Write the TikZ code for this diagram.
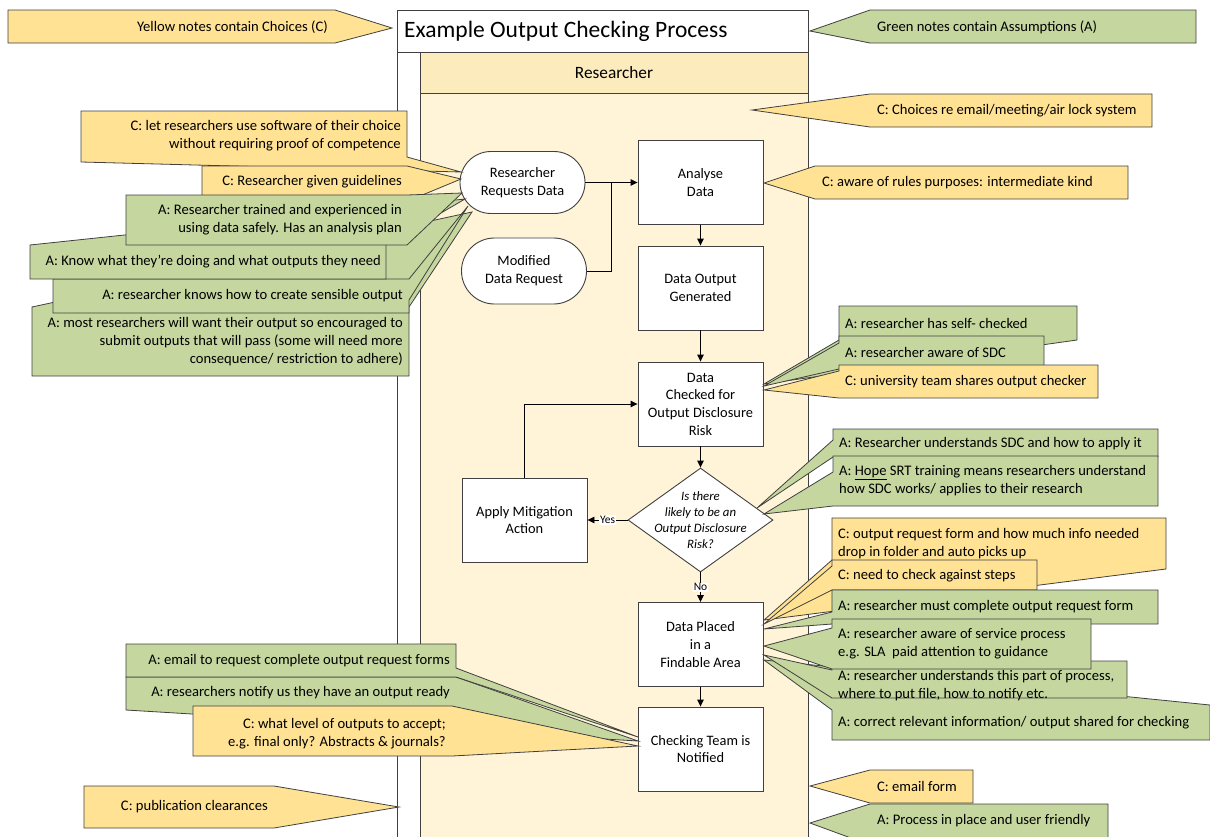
\documentclass[tikz,border=0pt]{standalone}
\usepackage{fontspec}
\setmainfont{Carlito}
\usetikzlibrary{arrows.meta,shapes.geometric}

\definecolor{ink}{HTML}{404040}
\definecolor{noteY}{HTML}{FFE294}
\definecolor{noteG}{HTML}{C5D69F}
\definecolor{laneHead}{HTML}{FCEBBD}
\definecolor{laneBody}{HTML}{FFF4D8}

\newcommand\notefont{\fontsize{14.6}{18}\selectfont}
\newcommand\flowfont{\fontsize{14.4}{17.7}\selectfont}

\begin{document}
\begin{tikzpicture}[x=1pt,y=-1pt,
  noteC/.style={draw=ink, fill=noteY, line width=0.8pt, line join=miter},
  noteA/.style={draw=ink, fill=noteG, line width=0.8pt, line join=miter},
  ntxtL/.style={anchor=west, align=left, font=\notefont, inner sep=0pt},
  ntxtR/.style={anchor=east, align=right, font=\notefont, inner sep=0pt},
  procbox/.style={draw=ink, fill=white, line width=0.9pt, minimum width=125pt,
    minimum height=84pt, align=center, font=\flowfont, inner sep=0pt},
  termbox/.style={draw=ink, fill=white, line width=0.9pt, minimum width=125pt,
    minimum height=62pt, rounded corners=31pt, align=center, font=\flowfont, inner sep=0pt},
  decbox/.style={diamond, draw=ink, fill=white, line width=0.9pt,
    minimum width=145pt, minimum height=104pt, inner sep=0pt},
  flow/.style={draw=black, line width=0.9pt, -{Triangle[length=7pt,width=6.5pt]}},
  link/.style={draw=black, line width=0.9pt},
  lbl/.style={fill=white, inner sep=1pt, font=\fontsize{11.5}{12}\selectfont},
]
\useasboundingbox (0,0) rectangle (1210,836);
\begin{scope}
\clip (0,0) rectangle (1210,836);

% ---------- pool and lane ----------
\fill[laneBody] (420,93) rectangle (808,850);
\filldraw[fill=laneHead, draw=ink, line width=0.9pt] (420,52) rectangle (808,93);
\filldraw[fill=white, draw=ink, line width=0.9pt] (397,10) rectangle (808,52);
\draw[ink, line width=0.9pt] (397,52) -- (397,850) (420,93) -- (420,850) (808,52) -- (808,850);
\node[anchor=west, font=\fontsize{23.5}{26}\selectfont, inner sep=0pt] (title) at (404,31) {Example Output Checking Process};
\node[font=\fontsize{17.3}{20}\selectfont, inner sep=0pt] (lane) at (614,73) {Researcher};

% ---------- process steps ----------
\node[termbox] (req) at (522.5,182.5) {Researcher\\Requests Data};
\node[termbox, minimum height=66pt, rounded corners=33pt] (mod) at (524,271) {Modified\\Data Request};
\node[procbox] (ana) at (700.5,182.5) {Analyse\\Data};
\node[procbox] (out) at (700.5,288) {Data Output\\Generated};
\node[procbox] (chk) at (700.5,404) {Data\\Checked for\\Output Disclosure\\Risk};
\node[decbox] (dec) at (700.5,520) {};
\node[font=\fontsize{12.8}{16}\selectfont\itshape, align=center, inner sep=0pt] (dectxt) at (700.5,520)
  {Is there\\likely to be an\\Output Disclosure\\Risk?};
\node[procbox] (mit) at (524.5,520) {Apply Mitigation\\Action};
\node[procbox] (place) at (700.5,644.5) {Data Placed\\in a\\Findable Area};
\node[procbox] (team) at (700.5,749) {Checking Team is\\Notified};

% ---------- connectors ----------
\coordinate (join) at (611,182.5);
\draw[flow] (req.east) -- (ana.west);
\draw[link] (mod.east) -| (join);
\draw[flow] (ana.south) -- (out.north);
\draw[flow] (out.south) -- (chk.north);
\draw[flow] (chk.south) -- (dec.north);
\draw[flow] (dec.west) -- node[lbl] (yes) {Yes} (mit.east);
\draw[flow] (dec.south) -- node[lbl] (no) {No} (place.north);
\draw[flow] (place.south) -- (team.north);
\draw[flow] (mit.north) |- (chk.west);

% ---------- legend notes ----------
\draw[noteC] (8,10) -- (335,10) -- (392,28) -- (335,43) -- (8,43) -- cycle;
\node[ntxtR] (c1) at (328,27) {Yellow notes contain Choices (C)};
\draw[noteA] (1196,10) -- (870,10) -- (810,31) -- (870,43) -- (1196,43) -- cycle;
\node[ntxtL] (c2) at (877,27) {Green notes contain Assumptions (A)};

% ---------- notes on the lane and Analyse Data ----------
\draw[noteC] (752,110) -- (870,94) -- (1152,94) -- (1152,127) -- (870,127) -- cycle;
\node[ntxtL] (c3) at (877,110.5) {C: Choices re email/meeting/air lock system};
\draw[noteC] (764,183) -- (815,166) -- (1128,166) -- (1128,199) -- (815,199) -- cycle;
\node[ntxtL] (c4) at (822,183) {C: aware of rules purposes: intermediate kind};

% ---------- notes on Researcher Requests Data ----------
\draw[noteC] (81,111) -- (407,111) -- (407,157) -- (461,172) -- (81,162) -- cycle;
\node[ntxtR] (c5) at (401,136) {C: let researchers use software of their choice\\without requiring proof of competence};
\draw[noteC] (202,166) -- (407,166) -- (461,179) -- (420,196) -- (202,196) -- cycle;
\node[ntxtR] (c6) at (402,182) {C: Researcher given guidelines};
\draw[noteA] (32,376) -- (32,307) -- (472,212) -- (409,307) -- (409,376) -- cycle;
\node[ntxtR] (c10) at (403,342) {A: most researchers will want their output so encouraged to\\submit outputs that will pass (some will need more\\consequence/ restriction to adhere)};
\draw[noteA] (53,279) -- (409,279) -- (468,206) -- (409,300) -- (409,313) -- (53,313) -- cycle;
\node[ntxtR] (c9) at (403,296) {A: researcher knows how to create sensible output};
\draw[noteA] (30,279) -- (30,245) -- (465,199) -- (386,245) -- (386,279) -- cycle;
\node[ntxtR] (c8) at (381,262) {A: Know what they’re doing and what outputs they need};
\draw[noteA] (126,195) -- (407,195) -- (462,193) -- (407,245) -- (126,245) -- cycle;
\node[ntxtR] (c7) at (402,220) {A: Researcher trained and experienced in\\using data safely. Has an analysis plan};

% ---------- notes on Data Checked ----------
\draw[noteA] (839,306) -- (1077,306) -- (1077,340) -- (764,384) -- (839,340) -- cycle;
\node[ntxtL] (c11) at (845,323) {A: researcher has self- checked};
\draw[noteA] (839,336) -- (1044,336) -- (1044,369) -- (839,369) -- (764,386) -- (839,343) -- cycle;
\node[ntxtL] (c12) at (845,352.5) {A: researcher aware of SDC};
\draw[noteC] (839,365) -- (1098,365) -- (1098,398) -- (839,398) -- (764,390) -- (839,371) -- cycle;
\node[ntxtL] (c13) at (845,381.5) {C: university team shares output checker};

% ---------- notes on the decision ----------
\draw[noteA] (833,429) -- (1158,429) -- (1158,457) -- (833,457) -- (757,508) -- (833,440) -- cycle;
\node[ntxtL] (c14) at (839,444) {A: Researcher understands SDC and how to apply it};
\draw[noteA] (833,456) -- (1158,456) -- (1158,506) -- (833,506) -- (764,514) -- (833,472) -- cycle;
\node[ntxtL] (c15) at (839,481) {A: \underline{Hope} SRT training means researchers understand\\how SDC works/ applies to their research};

% ---------- notes on Data Placed ----------
\draw[noteC] (832,518) -- (1166,518) -- (1166,569) -- (764,620) -- (832,560) -- cycle;
\node[ntxtL] (c16) at (838,543.5) {C: output request form and how much info needed\\drop in folder and auto picks up};
\draw[noteC] (832,560) -- (1037,560) -- (1037,590) -- (832,590) -- (764,624) -- (832,566) -- cycle;
\node[ntxtL] (c17) at (838,576) {C: need to check against steps};
\draw[noteA] (832,590) -- (1158,590) -- (1158,624) -- (832,624) -- (764,629) -- (832,612) -- cycle;
\node[ntxtL] (c18) at (838,607) {A: researcher must complete output request form};
\draw[noteA] (832,740) -- (832,710) -- (764,660) -- (1210,705) -- (1210,740) -- cycle;
\node[ntxtL] (c21) at (838,722.5) {A: correct relevant information/ output shared for checking};
\draw[noteA] (832,661) -- (1127,661) -- (1127,698) -- (832,698) -- (764,655) -- (832,670) -- cycle;
\node[ntxtL] (c20) at (838,685.5) {A: researcher understands this part of process,\\where to put file, how to notify etc.};
\draw[noteA] (832,619) -- (1091,619) -- (1091,669) -- (832,669) -- (764,646) -- (832,628) -- cycle;
\node[ntxtL] (c19) at (838,644) {A: researcher aware of service process\\e.g. SLA\ \ paid attention to guidance};

% ---------- notes on Checking Team is Notified ----------
\draw[noteA] (126,677) -- (456,677) -- (638,741) -- (126,710) -- cycle;
\node[ntxtR] (c23) at (450,693) {A: researchers notify us they have an output ready};
\draw[noteA] (126,644) -- (456,644) -- (456,668) -- (638,737) -- (456,677) -- (126,677) -- cycle;
\node[ntxtR] (c22) at (450,661) {A: email to request complete output request forms};
\draw[noteC] (193,706) -- (452,706) -- (638,746) -- (452,756) -- (193,756) -- cycle;
\node[ntxtR] (c24) at (446,734) {C: what level of outputs to accept;\\e.g. final only? Abstracts \& journals?};

% ---------- notes at the foot of the pool ----------
\draw[noteC] (84,786) -- (274,786) -- (399,807) -- (274,828) -- (84,828) -- cycle;
\node[ntxtR] (c25) at (268,807) {C: publication clearances};
\draw[noteC] (810,786) -- (870,770) -- (973,770) -- (973,803) -- (870,803) -- cycle;
\node[ntxtL] (c26) at (877,786.5) {C: email form};
\draw[noteA] (810,823) -- (870,804) -- (1108,804) -- (1108,845) -- (870,845) -- cycle;
\node[ntxtL] (c27) at (877,821) {A: Process in place and user friendly};
\end{scope}
\end{tikzpicture}
\end{document}
